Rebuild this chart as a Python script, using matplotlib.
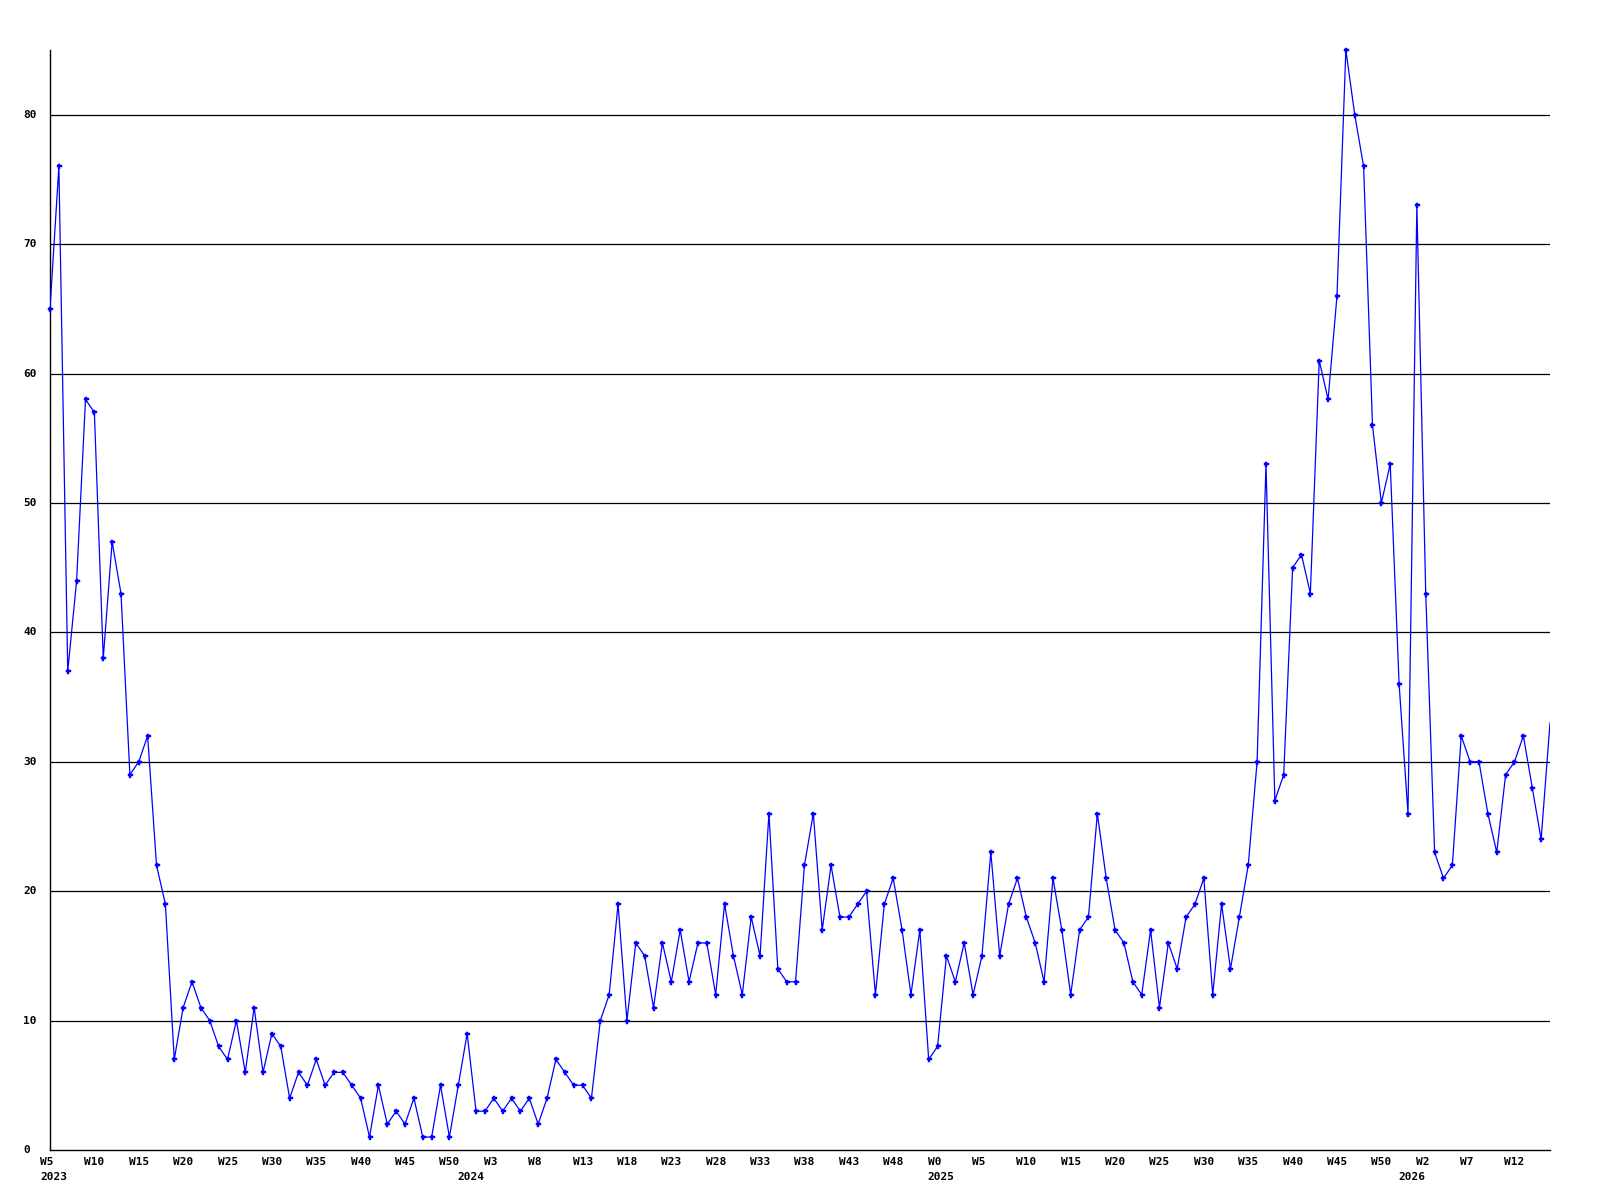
import matplotlib
matplotlib.use('Agg')
import matplotlib.pyplot as plt
import matplotlib.transforms as mtransforms
import numpy as np

# ── Data: one value per week, W5 2023 .. W16 2026 ─────────────────────────────
counts = [
    # 2023 W5..W52
    65, 76, 37, 44, 58, 57, 38, 47, 43, 29, 30, 32, 22, 19, 7, 11, 13, 11, 10, 8,
    7, 10, 6, 11, 6, 9, 8, 4, 6, 5, 7, 5, 6, 6, 5, 4, 1, 5, 2, 3,
    2, 4, 1, 1, 5, 1, 5, 9,
    # 2024
    3, 3, 4, 3, 4, 3, 4, 2, 4, 7, 6, 5, 5, 4, 10, 12, 19, 10, 16, 15,
    11, 16, 13, 17, 13, 16, 16, 12, 19, 15, 12, 18, 15, 26, 14, 13, 13, 22, 26, 17,
    22, 18, 18, 19, 20, 12, 19, 21, 17, 12, 17, 7,
    # 2025
    8, 15, 13, 16, 12, 15, 23, 15, 19, 21, 18, 16, 13, 21, 17, 12, 17, 18, 26, 21,
    17, 16, 13, 12, 17, 11, 16, 14, 18, 19, 21, 12, 19, 14, 18, 22, 30, 53, 27, 29,
    45, 46, 43, 61, 58, 66, 85, 80, 76, 56, 50, 53, 36,
    # 2026
    26, 73, 43, 23, 21, 22, 32, 30, 30, 26, 23, 29, 30, 32, 28, 24, 33,
]

week_ticks  = [0, 5, 10, 15, 20, 25, 30, 35, 40, 45,
               50, 55, 60, 65, 70, 75, 80, 85, 90, 95,
               100, 105, 110, 115, 120, 125, 130, 135, 140, 145, 150,
               155, 160, 165]
week_labels = ['W5', 'W10', 'W15', 'W20', 'W25', 'W30', 'W35', 'W40', 'W45', 'W50',
               'W3', 'W8', 'W13', 'W18', 'W23', 'W28', 'W33', 'W38', 'W43', 'W48',
               'W0', 'W5', 'W10', 'W15', 'W20', 'W25', 'W30', 'W35', 'W40', 'W45', 'W50',
               'W2', 'W7', 'W12']
year_ticks  = [0, 47, 100, 153]
year_labels = ['2023', '2024', '2025', '2026']
y_ticks     = [0, 10, 20, 30, 40, 50, 60, 70, 80]

# ── Figure ────────────────────────────────────────────────────────────────────
FONT = dict(family='DejaVu Sans Mono', fontweight='bold', fontsize=8, color='black')

fig = plt.figure(figsize=(16, 12), dpi=100)
fig.patch.set_facecolor('white')
ax = fig.add_axes([50 / 1600, 50 / 1200, 1500 / 1600, 1100 / 1200])
ax.set_facecolor('white')

x = np.arange(len(counts))
ax.plot(x, counts, color='#0000ff', linewidth=0.9, zorder=3)
# markers (last week is at the clipped right edge, no marker there)
ax.plot(x[:-1], counts[:-1], linestyle='none', marker='P', markersize=3.6,
        markerfacecolor='#0000ff', markeredgecolor='#0000ff', markeredgewidth=0.3,
        zorder=4, clip_on=False)

ax.set_xlim(0, len(counts) - 1)
ax.set_ylim(0, 85)

# horizontal grid
for v in y_ticks[1:]:
    ax.axhline(v, color='black', linewidth=0.9, zorder=1)

for side in ('top', 'right'):
    ax.spines[side].set_visible(False)
for side in ('left', 'bottom'):
    ax.spines[side].set_color('black')
    ax.spines[side].set_linewidth(1.0)

ax.set_xticks([])
ax.set_yticks([])

# y labels, left aligned at fixed column
ytrans = mtransforms.offset_copy(ax.get_yaxis_transform(), fig=fig, x=-27, y=0, units='dots')
for v in y_ticks:
    ax.text(0, v, str(v), transform=ytrans, ha='left', va='center', **FONT)

# week and year labels under the axis
wtrans = mtransforms.offset_copy(ax.get_xaxis_transform(), fig=fig, x=-10, y=-12, units='dots')
for t, lab in zip(week_ticks, week_labels):
    ax.text(t, 0, lab, transform=wtrans, ha='left', va='center', clip_on=False, **FONT)

ytrans2 = mtransforms.offset_copy(ax.get_xaxis_transform(), fig=fig, x=-10, y=-27, units='dots')
for t, lab in zip(year_ticks, year_labels):
    ax.text(t, 0, lab, transform=ytrans2, ha='left', va='center', clip_on=False, **FONT)

fig.savefig('out.png', dpi=100)
